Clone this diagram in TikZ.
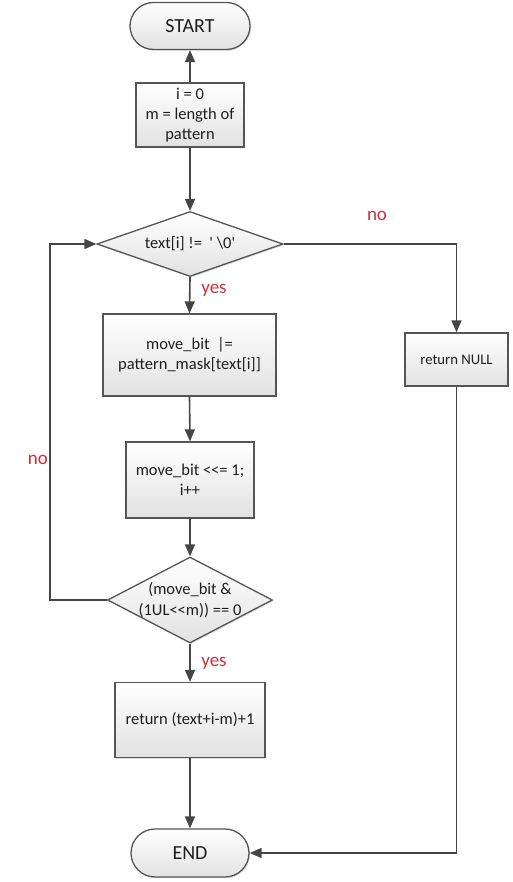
\documentclass[tikz,border=0pt]{standalone}
\usepackage{fontspec}
\setmainfont{Carlito}
\usetikzlibrary{arrows.meta,shapes.geometric,shapes.misc,shadows}
\definecolor{linec}{HTML}{454545}
\definecolor{boxc}{HTML}{555555}
\definecolor{fillc}{HTML}{E2E2E2}
\definecolor{textc}{HTML}{1E1E1E}
\definecolor{labc}{HTML}{C8323C}
\begin{document}
\begin{tikzpicture}[x=1pt,y=1pt,
  line/.style={draw=linec, line width=1.6pt},
  arr/.style={line, -{Triangle[length=12pt,width=10pt]}},
  box/.style={draw=boxc, line width=1.3pt, top color=white, bottom color=fillc,
    text=textc, font=\fontsize{16.5}{20}\selectfont, align=center, inner sep=0pt,
    drop shadow={shadow xshift=1.2pt, shadow yshift=-1.2pt, opacity=0.25}},
  term/.style={box, rounded rectangle, font=\fontsize{20}{24}\selectfont},
  dec/.style={box, diamond},
  dectext/.style={text=textc, font=\fontsize{16.5}{21}\selectfont, align=center, inner sep=0pt},
  lab/.style={text=labc, font=\fontsize{19}{22}\selectfont, inner sep=0pt}
]
\useasboundingbox (0,0) rectangle (513,-882);

\node[term, minimum width=120pt, minimum height=47pt] (start) at (190,-26) {START};
\node[box, minimum width=108pt, minimum height=64pt] (init) at (190,-115) {i = 0\\m = length of\\pattern};
\node[dec, minimum width=186pt, minimum height=65pt] (d1) at (190,-244) {};
\node[dectext] (d1t) at (190,-244) {text[i] !=~~\textquotesingle~\textbackslash 0\textquotesingle};
\node[box, minimum width=173pt, minimum height=82pt] (mb) at (189.5,-355) {move\_bit~ |=\\pattern\_mask[text[i]]};
\node[box, minimum width=128pt, minimum height=76pt] (sh) at (190,-480) {move\_bit <{}<= 1;\\i++};
\node[dec, minimum width=165pt, minimum height=86pt] (d2) at (190,-600) {};
\node[dectext] (d2t) at (190,-600) {(move\_bit \&\\(1UL<{}<m)) == 0};
\node[box, minimum width=150pt, minimum height=75pt] (ret) at (190,-720) {return (text+i-m)+1};
\node[term, minimum width=118pt, minimum height=48pt] (endn) at (190,-853) {END};
\node[box, minimum width=103pt, minimum height=53pt, font=\fontsize{14.7}{18}\selectfont] (null) at (456.5,-359.5) {return NULL};
\coordinate (lp) at (50,-600);

\draw[arr] (init.north) -- (start.south);
\draw[arr] (init.south) -- (d1.north);
\draw[arr] (d1.south) -- (mb.north);
\draw[arr] (mb.south) -- (sh.north);
\draw[arr] (sh.south) -- (d2.north);
\draw[arr] (d2.south) -- (ret.north);
\draw[arr] (ret.south) -- (endn.north);
\draw[arr] (d1.east) -| (null.north);
\draw[arr] (null.south) |- (endn.east);
\draw[arr] (d2.west) -- (lp) |- (d1.west);

\node[lab] (yes1) at (214,-290) {yes};
\node[lab] (yes2) at (214,-663) {yes};
\node[lab] (no1) at (377,-216) {no};
\node[lab] (no2) at (38,-460) {no};
\end{tikzpicture}
\end{document}
